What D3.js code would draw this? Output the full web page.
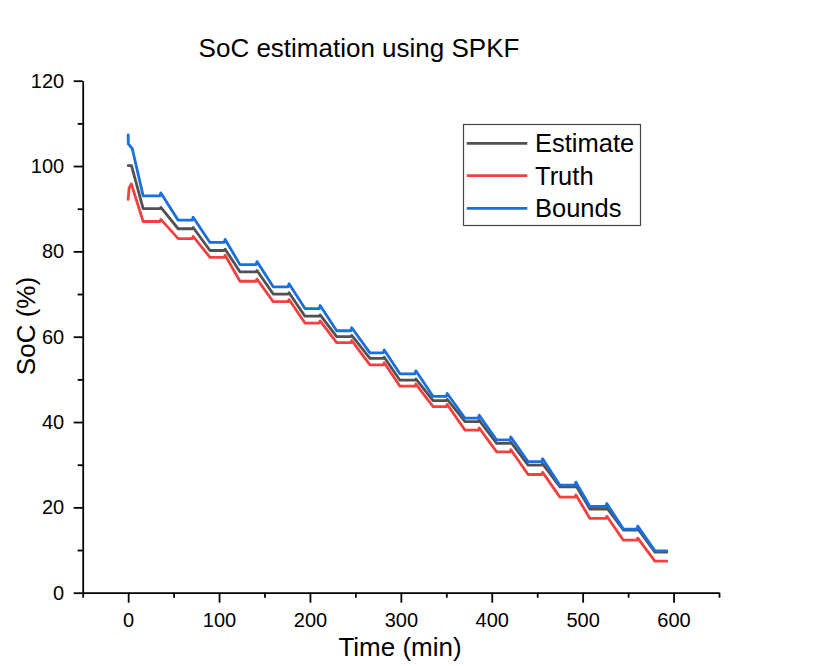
<!DOCTYPE html>
<html>
<head>
<meta charset="utf-8">
<script src="https://cdn.jsdelivr.net/npm/d3@7"></script>
<style>
  html, body { margin: 0; padding: 0; background: #ffffff; }
  svg { display: block; font-family: "Liberation Sans", Arial, Helvetica, sans-serif; }
</style>
</head>
<body>
<svg id="chart" width="833" height="666"></svg>
<script>
// ---- Data ----
// Time (min) where each rest (flat) segment starts and ends
const flatStart = [16.5, 55, 90, 123, 159.6, 194.5, 229.4, 266, 299, 335.5, 370.6, 405.4, 440, 475, 508, 544.8, 579.5];
const flatEnd   = [35, 70.5, 105.7, 140.7, 176, 210.2, 245, 280.7, 315.5, 350, 385.2, 420, 455, 491.6, 525.6, 559.6, 592.5];

// SoC (%) level of each flat segment
const estimateLevel = [90.0, 85.3, 80.2, 75.2, 70.0, 64.8, 60.0, 54.9, 49.8, 45.0, 40.1, 35.0, 29.9, 24.8, 19.6, 14.7, 9.5];
const truthLevel    = [87.0, 83.0, 78.6, 73.0, 68.2, 63.2, 58.6, 53.4, 48.4, 43.6, 38.1, 33.0, 27.7, 22.4, 17.4, 12.3, 7.4];
const boundsLevel   = [93.0, 87.3, 82.1, 76.9, 71.7, 66.6, 61.4, 56.2, 51.3, 46.0, 40.9, 35.8, 30.7, 25.2, 20.2, 14.9, 9.8];

// Initial transients [time, SoC]
const estimateHead = [[0, 100.1], [3.7, 100.1]];
const truthHead    = [[0, 92.2], [1, 94.8], [3.5, 95.8]];
const boundsHead   = [[0, 107.3], [0.2, 105.2], [4.5, 104.1]];

// Small bump at the start of each discharge pulse
const spikeSize = { estimate: 0.3, truth: 0.5, bounds: 0.7 };

const xTicksMajor = [0, 100, 200, 300, 400, 500, 600];
const xTicksMinor = [-50, 50, 150, 250, 350, 450, 550, 650];
const yTicksMajor = [0, 20, 40, 60, 80, 100, 120];
const yTicksMinor = [10, 30, 50, 70, 90, 110];

const seriesNames = ["Estimate", "Truth", "Bounds"];
const seriesColors = ["#515151", "#F14040", "#1A6FDF"];

// ---- Build series ----
function buildSeries(head, levels, spike) {
  const pts = head.map(d => d.slice());
  levels.forEach((v, i) => {
    pts.push([flatStart[i], v]);
    pts.push([flatEnd[i], v]);
    if (i < levels.length - 1) pts.push([flatEnd[i] + 1, v + spike]);
  });
  return pts;
}
const estimate = buildSeries(estimateHead, estimateLevel, spikeSize.estimate);
const truth = buildSeries(truthHead, truthLevel, spikeSize.truth);
const bounds = buildSeries(boundsHead, boundsLevel, spikeSize.bounds);
const allSeries = [estimate, truth, bounds];

// ---- Chart ----
const svg = d3.select("#chart");
svg.append("rect").attr("width", 833).attr("height", 666).attr("fill", "#ffffff");

const x = d3.scaleLinear().domain([-50, 650]).range([82.7, 719]);
const y = d3.scaleLinear().domain([0, 120]).range([592.7, 80.7]);

// Title
svg.append("text")
  .attr("x", 359).attr("y", 56.5)
  .attr("text-anchor", "middle")
  .attr("font-size", 26)
  .text("SoC estimation using SPKF");

// Lines
const line = d3.line().x(d => x(d[0])).y(d => y(d[1]));
const g = svg.append("g");
allSeries.forEach((s, i) => {
  g.append("path")
    .datum(s)
    .attr("d", line)
    .attr("fill", "none")
    .attr("stroke", seriesColors[i])
    .attr("stroke-width", 2.8)
    .attr("stroke-linejoin", "round")
    .attr("stroke-linecap", "round");
});

// Axes
const axisStroke = 1.8;
const xAxisG = svg.append("g").attr("transform", `translate(0,${y(0)})`);
xAxisG.call(d3.axisBottom(x).tickValues(xTicksMajor).tickSize(10).tickSizeOuter(0).tickPadding(10.5));
const xMinorG = svg.append("g").attr("transform", `translate(0,${y(0)})`);
xMinorG.call(d3.axisBottom(x).tickValues(xTicksMinor).tickSize(5).tickSizeOuter(0).tickFormat(""));
xMinorG.select(".domain").remove();

const yAxisG = svg.append("g").attr("transform", `translate(${x(-50)},0)`);
yAxisG.call(d3.axisLeft(y).tickValues(yTicksMajor).tickSize(9).tickSizeOuter(0).tickPadding(9.5));
const yMinorG = svg.append("g").attr("transform", `translate(${x(-50)},0)`);
yMinorG.call(d3.axisLeft(y).tickValues(yTicksMinor).tickSize(5).tickSizeOuter(0).tickFormat(""));
yMinorG.select(".domain").remove();

svg.selectAll(".domain, .tick line").attr("stroke", "#000").attr("stroke-width", axisStroke);
svg.selectAll(".tick text").attr("font-size", 20).attr("fill", "#000")
  .attr("font-family", '"Liberation Sans", Arial, sans-serif');

// Axis labels
svg.append("text")
  .attr("x", 400).attr("y", 656)
  .attr("text-anchor", "middle")
  .attr("font-size", 26)
  .text("Time (min)");

svg.append("text")
  .attr("transform", "translate(35,326) rotate(-90)")
  .attr("text-anchor", "middle")
  .attr("font-size", 26)
  .text("SoC (%)");

// Legend
const lg = svg.append("g");
lg.append("rect")
  .attr("x", 463.5).attr("y", 124.5)
  .attr("width", 177).attr("height", 101)
  .attr("fill", "#ffffff").attr("stroke", "#444").attr("stroke-width", 1.2);
const rowY = [143.3, 175.7, 208.3];
seriesNames.forEach((n, i) => {
  lg.append("line")
    .attr("x1", 466.7).attr("x2", 527.3)
    .attr("y1", rowY[i]).attr("y2", rowY[i])
    .attr("stroke", seriesColors[i]).attr("stroke-width", 2.8);
  lg.append("text")
    .attr("x", 535).attr("y", rowY[i] + 9)
    .attr("font-size", 25.5)
    .text(n);
});
</script>
</body>
</html>
